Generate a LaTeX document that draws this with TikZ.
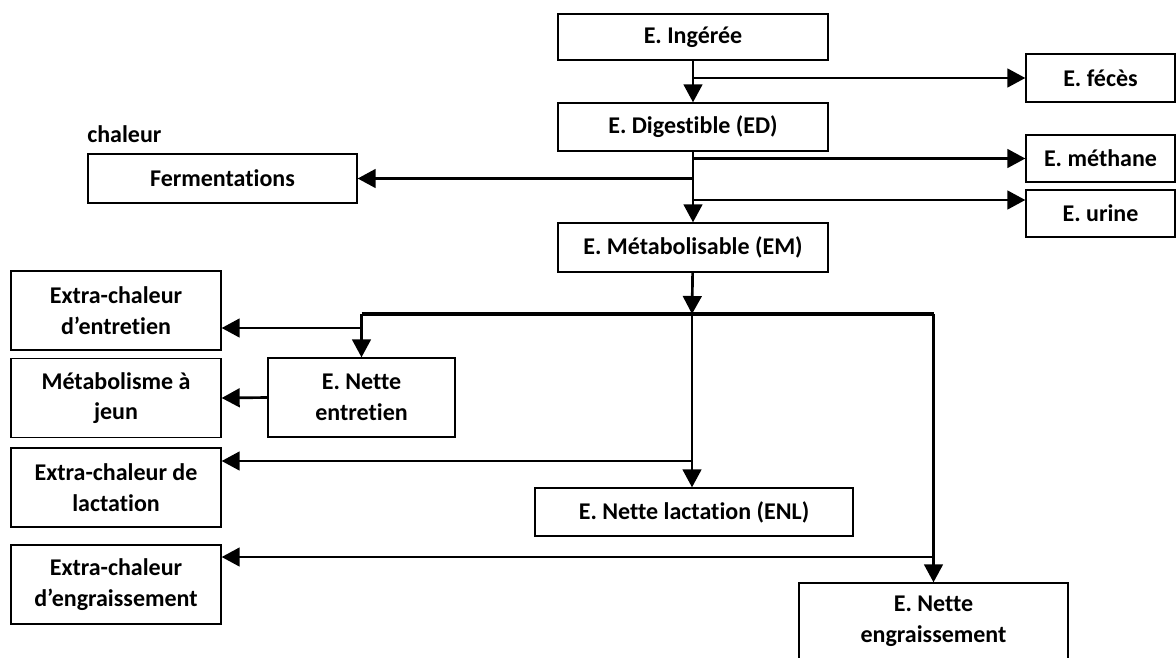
\documentclass[tikz,border=0pt]{standalone}
\usepackage{fontspec}
\setmainfont{Carlito}[Ligatures=NoCommon]
\usetikzlibrary{arrows.meta,calc}

\begin{document}
\begin{tikzpicture}[
    x=0.75pt, y=-0.75pt,
    font=\fontsize{18}{23}\selectfont\bfseries,
    >={Triangle[length=13.5pt,width=14pt]},
    box/.style={rectangle, draw=black, line width=1pt, align=center, inner sep=1pt},
    mainbox/.style={box, minimum width=202.5pt, minimum height=36pt},
    sidebox/.style={box, minimum width=111.75pt, minimum height=35.25pt},
    heatbox/.style={box, minimum width=157.5pt, minimum height=59.25pt},
    flow/.style={->, line width=2pt},
    busline/.style={line width=2.5pt}
]
\useasboundingbox (0,0) rectangle (1176,657);

% Main chain (y = 37 to 248)
\node[mainbox, minimum height=34.5pt] (ing) at (693,37) {E. Ingérée};
\node[mainbox] (dig) at (693,127) {E. Digestible (ED)};
\node[mainbox, minimum height=36.75pt] (em) at (693,247.5) {E. Métabolisable (EM)};

% Losses on the right
\node[sidebox, minimum height=36pt] (feces) at (1100.5,78) {E. fécès};
\node[sidebox] (methane) at (1100.5,158.5) {E. méthane};
\node[sidebox] (urine) at (1100.5,213.5) {E. urine};

% Fermentation heat
\node[anchor=base west, inner sep=0pt] (chal) at (87,142) {chaleur};
\node[box, minimum width=201.75pt, minimum height=36.75pt] (ferm) at (222.5,178.5) {Fermentations};

% Heat column on the left
\node[heatbox] (xent) at (116,310.5) {Extra-chaleur\\d’entretien};
\node[heatbox] (metab) at (116,398) {Métabolisme à\\jeun};
\node[heatbox] (xlac) at (116,487.5) {Extra-chaleur de\\lactation};
\node[heatbox] (xeng) at (116,584.5) {Extra-chaleur\\d’engraissement};

% Net energies
\node[box, minimum width=140.25pt, minimum height=59.25pt] (nent) at (361.5,397.5) {E. Nette\\entretien};
\node[box, minimum width=238.5pt, minimum height=36pt] (enl) at (694,512) {E. Nette lactation (ENL)};
\node[box, minimum width=201.75pt, minimum height=57pt] (neng) at (933.5,621) {E. Nette\\engraissement};

% Branch points
\coordinate (bus) at (692,314);
\coordinate (xentin) at ($(xent.east)+(0,17.5)$);
\coordinate (xlacin) at ($(xlac.east)+(0,-26.5)$);
\coordinate (xengin) at ($(xeng.east)+(0,-27.5)$);
\coordinate (urinein) at ($(urine.west)+(0,-13.5)$);

% Arrows: upper chain
\draw[flow] (ing) -- (dig);
\draw[flow] (ing.south |- feces.west) -- (feces.west);
\draw[flow] (dig) -- (em);
\draw[flow] (dig.south |- methane.west) -- (methane.west);
\draw[flow] (dig.south |- ferm.east) -- (ferm.east);
\draw[flow] (dig.south |- urinein) -- (urinein);

% Distribution bus below EM
\draw[flow] (em) -- (bus);
\draw[busline] (nent.north |- bus) -- (neng.north |- bus);
\draw[flow] (nent.north |- bus) -- (nent.north);
\draw[flow] (bus) -- (bus |- enl.north);
\draw[flow] (neng.north |- bus) -- (neng.north);

% Heat losses
\draw[flow] (nent.north |- xentin) -- (xentin);
\draw[flow] (nent.west) -- (metab.east);
\draw[flow] (bus |- xlacin) -- (xlacin);
\draw[flow] (neng.north |- xengin) -- (xengin);

\end{tikzpicture}
\end{document}
